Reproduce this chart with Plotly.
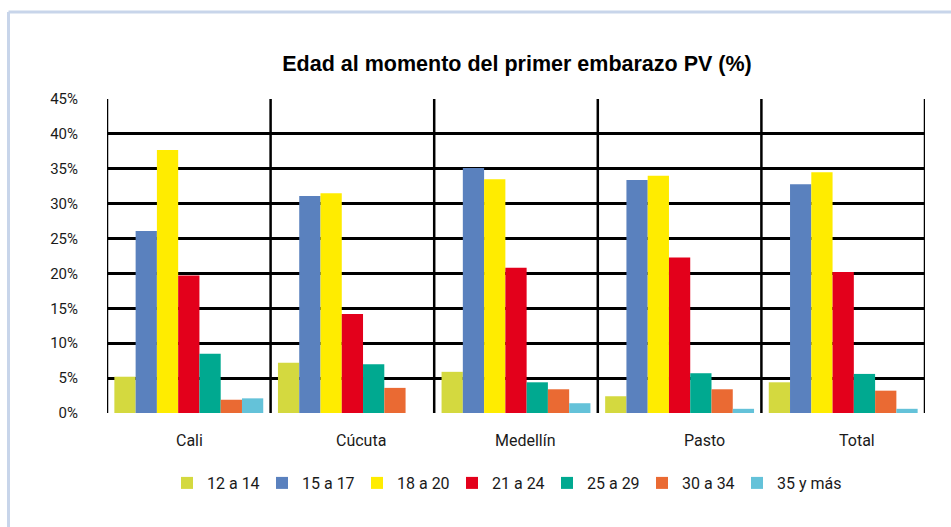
import plotly.graph_objects as go

# Categories (cities) and age groups
ciudades = ["Cali", "Cúcuta", "Medellín", "Pasto", "Total"]
grupos = ["12 a 14", "15 a 17", "18 a 20", "21 a 24", "25 a 29", "30 a 34", "35 y más"]

# Percentage of women by age at first pregnancy, per city
v_12_14 = [5.2, 7.2, 5.9, 2.4, 4.4]
v_15_17 = [26.1, 31.1, 35.1, 33.4, 32.8]
v_18_20 = [37.7, 31.5, 33.5, 34.0, 34.5]
v_21_24 = [19.7, 14.2, 20.8, 22.3, 20.2]
v_25_29 = [8.5, 7.0, 4.4, 5.7, 5.6]
v_30_34 = [1.9, 3.6, 3.4, 3.4, 3.2]
v_35_mas = [2.1, None, 1.4, 0.6, 0.6]

series = [v_12_14, v_15_17, v_18_20, v_21_24, v_25_29, v_30_34, v_35_mas]
colores = ["#D4D93F", "#5A81BE", "#FFEC00", "#E3001B", "#00A990", "#EA6A33", "#64C2D9"]

# Horizontal nudge of each city label under its group (px)
desplazamiento_etiquetas = [1, 9, 9, 25, 14]

y_ticks = list(range(0, 50, 5))
y_tick_text = [f"{t}%" for t in y_ticks]

FONT = "Roboto, Liberation Sans, sans-serif"
TITLE_FONT = "Liberation Sans, Arial, sans-serif"

fig = go.Figure()
for nombre, valores, color in zip(grupos, series, colores):
    fig.add_trace(go.Bar(
        name=nombre, x=ciudades, y=valores,
        marker=dict(color=color, line=dict(width=0)),
    ))
# empty spacer entry so the last legend label has room
fig.add_trace(go.Scatter(x=[None], y=[None], mode="markers", name=" ",
                         marker=dict(color="rgba(0,0,0,0)"),
                         hoverinfo="skip", showlegend=True))

W, H = 951, 527
L, R, T, B = 107, 26, 99, 114
pw, ph = W - L - R, H - T - B

shapes = []
# vertical separators between city groups
for i in range(len(ciudades) + 1):
    shapes.append(dict(type="line", xref="x", yref="paper",
                       x0=i - 0.5, x1=i - 0.5, y0=0, y1=1,
                       line=dict(color="black", width=2.5), layer="below"))
# outer frame (top and left edges only)
fx0 = -(L - 8.5) / pw
fy1 = (H - B - 12) / ph
fx1 = (W - L + 5) / pw
fy0 = -(B + 5) / ph
shapes.append(dict(type="line", xref="paper", yref="paper",
                   x0=fx0, x1=fx1, y0=fy1, y1=fy1,
                   line=dict(color="#C8D5EA", width=3)))
shapes.append(dict(type="line", xref="paper", yref="paper",
                   x0=fx0, x1=fx0, y0=fy0, y1=fy1,
                   line=dict(color="#C8D5EA", width=3)))

annotations = []
for c, dx in zip(ciudades, desplazamiento_etiquetas):
    annotations.append(dict(x=c, y=0, xref="x", yref="paper",
                            text=c, showarrow=False, xshift=dx, yshift=-27,
                            yanchor="middle", xanchor="center",
                            font=dict(family=FONT, size=16, color="#1a1a1a")))

fig.update_layout(
    width=W, height=H,
    margin=dict(l=L, r=R, t=T, b=B, autoexpand=False),
    paper_bgcolor="white", plot_bgcolor="white",
    barmode="group", bargap=0.09, bargroupgap=0,
    title=dict(text="<b>Edad al momento del primer embarazo PV (%)</b>",
               x=(L + pw / 2 + 1) / W, xanchor="center",
               y=1 - 63 / H, yanchor="middle", yref="container",
               font=dict(family=TITLE_FONT, size=21.5, color="black")),
    font=dict(family=FONT, size=15, color="#1a1a1a"),
    xaxis=dict(showticklabels=False, showgrid=False, zeroline=False,
               showline=False, range=[-0.5, len(ciudades) - 0.5]),
    yaxis=dict(range=[0, 45], tickvals=y_ticks, ticktext=y_tick_text,
               showgrid=True, gridcolor="black", gridwidth=2.5,
               zeroline=False, showline=False, ticks="",
               ticklabelstandoff=28,
               tickfont=dict(family=FONT, size=15, color="#1a1a1a")),
    legend=dict(orientation="h", x=(185 - 18 - L) / pw, xanchor="left",
                y=-(483 - (H - B)) / ph, yanchor="middle",
                font=dict(family=FONT, size=16, color="#1a1a1a"),
                itemwidth=30, entrywidth=50, traceorder="normal"),
    shapes=shapes,
    annotations=annotations,
    showlegend=True,
)

fig.write_html("out.html")
